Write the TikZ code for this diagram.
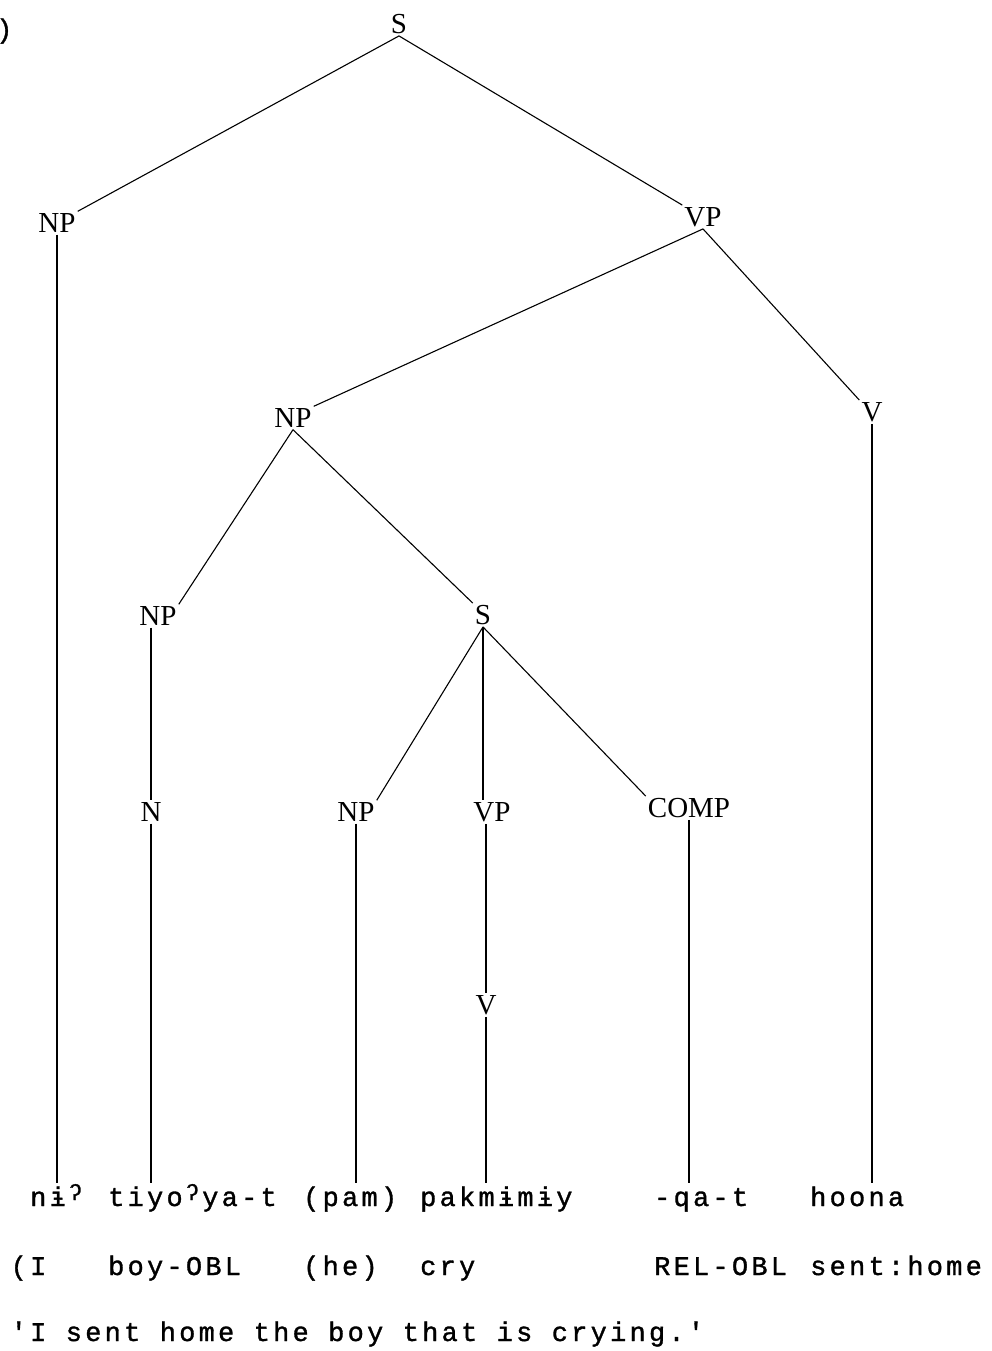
\documentclass[tikz,border=0pt]{standalone}
\usepackage{fontspec}
\setmainfont{Liberation Serif}
\newfontfamily\twfont[LetterSpace=12, FakeBold=1.2]{Liberation Mono}
\usetikzlibrary{calc}

\newcommand{\lbl}{\fontsize{29}{30}\selectfont}
\newcommand{\tw}{\twfont\fontsize{27}{28}\selectfont}
\newcommand{\gst}{\makebox[19.5pt][c]{\raisebox{6pt}{\fontsize{22}{22}\selectfont ʔ}}}

\begin{document}
\begin{tikzpicture}[
  x=1pt, y=-1pt,
  lab/.style   ={font=\lbl, inner sep=2pt},
  word/.style  ={font=\tw, anchor=base west, inner sep=0pt, text height=23pt},
  branch/.style={line width=1.1pt},
]
\useasboundingbox (0,0) rectangle (992,1351);

%% ---- Tree nodes ----
\node[lab] (S)    at (399,24)   {S};
\node[lab] (NPa)  at (57,223)   {NP};
\node[lab] (VP)   at (703,217)  {VP};
\node[lab] (NPb)  at (293,418)  {NP};
\node[lab] (Vr)   at (872,412)  {V};
\node[lab] (NPc)  at (158,616)  {NP};
\node[lab] (Se)   at (483,615)  {S};
\node[lab] (N)    at (151,812)  {N};
\node[lab] (NPd)  at (356,812)  {NP};
\node[lab] (VPe)  at (492,812)  {VP};
\node[lab] (COMP) at (689,808)  {COMP};
\node[lab] (Vl)   at (486,1005) {V};

%% ---- Words, glosses, translation ----
\node[word] (num) at (-4,38)    {)};
\node[word] (w1)  at (30,1206)  {nɨ\gst};
\node[word] (w2)  at (108,1206) {tiyo\gst ya-t};
\node[word] (w3)  at (303,1206) {(pam)};
\node[word] (w4)  at (420,1206) {pakmɨmɨy};
\node[word] (w5)  at (654,1206) {-qa-t};
\node[word] (w6)  at (810,1206) {hoona};
\node[word] (g1)  at (10.5,1275) {(I};
\node[word] (g2)  at (108,1275) {boy-OBL};
\node[word] (g3)  at (303,1275) {(he)};
\node[word] (g4)  at (420,1275) {cry};
\node[word] (g5)  at (654,1275) {REL-OBL};
\node[word] (g6)  at (810,1275) {sent:home};
\node[word] (tr)  at (10.5,1341) {'I sent home the boy that is crying.'};

%% ---- Branches ----
\draw[branch] (S.south)   -- (NPa.north east);
\draw[branch] (S.south)   -- (VP.north west);
\draw[branch] (VP.south)  -- (NPb.north east);
\draw[branch] (VP.south)  -- (Vr.north west);
\draw[branch] (NPb.south) -- (NPc.north east);
\draw[branch] (NPb.south) -- (Se.north west);
\draw[branch] (Se.south)  -- (NPd.north east);
\draw[branch] (Se.south)  -- (Se.south |- VPe.north);
\draw[branch] (Se.south)  -- (COMP.north west);
\draw[branch] (N.north |- NPc.south) -- (N.north);
\draw[branch] (Vl.north |- VPe.south) -- (Vl.north);

%% ---- Lines down to the words ----
\draw[branch] (NPa.south)  -- (NPa.south |- w1.north);
\draw[branch] (N.south)    -- (N.south |- w2.north);
\draw[branch] (NPd.south)  -- (NPd.south |- w3.north);
\draw[branch] (Vl.south)   -- (Vl.south |- w4.north);
\draw[branch] (COMP.south) -- (COMP.south |- w5.north);
\draw[branch] (Vr.south)   -- (Vr.south |- w6.north);

\end{tikzpicture}
\end{document}
